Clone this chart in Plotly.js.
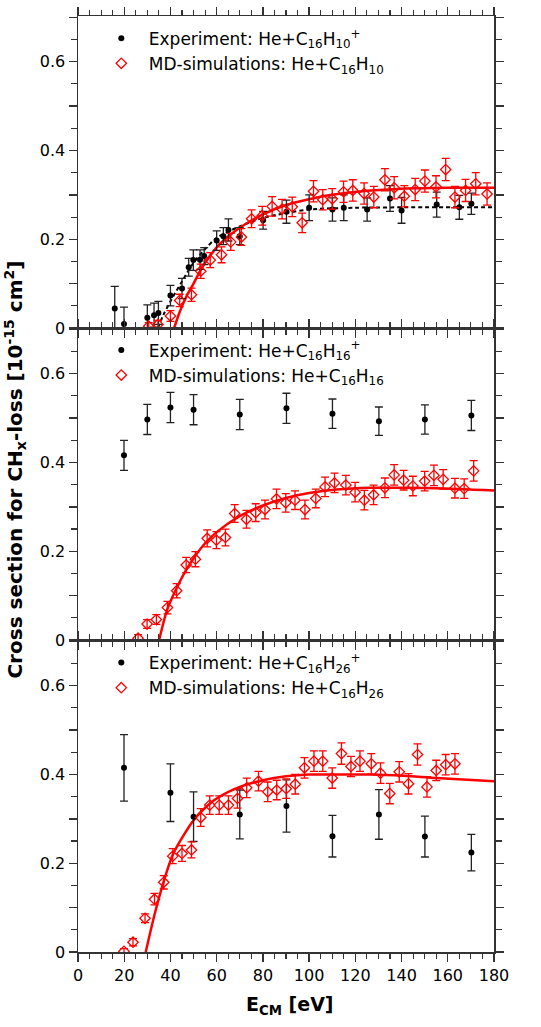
<!DOCTYPE html>
<html>
<head>
<meta charset="utf-8">
<script src="https://cdn.plot.ly/plotly-3.0.1.min.js"></script>
<style>body{margin:0;background:#fff;} #chart{width:541px;height:1027px;}</style>
</head>
<body>
<div id="chart"></div>
<script>
// panel 1: He + C16H10
var exp10E = [15.9, 19.9, 30.0, 32.9, 34.8, 40.0, 45.0, 47.9, 49.9, 52.8, 54.6, 60.0, 62.9, 65.1, 70.0, 80.1, 90.2, 100.0, 110.1, 115.0, 125.1, 135.0, 140.0, 155.2, 165.0, 170.2];
var exp10Y = [0.044, 0.009, 0.023, 0.029, 0.034, 0.073, 0.089, 0.137, 0.153, 0.154, 0.162, 0.197, 0.207, 0.221, 0.207, 0.243, 0.262, 0.271, 0.267, 0.271, 0.267, 0.292, 0.265, 0.278, 0.272, 0.280];
var exp10Err = [0.050, 0.038, 0.029, 0.027, 0.026, 0.023, 0.023, 0.020, 0.023, 0.022, 0.019, 0.022, 0.019, 0.025, 0.019, 0.020, 0.026, 0.029, 0.026, 0.029, 0.026, 0.029, 0.029, 0.028, 0.027, 0.024];
var md10E = [30.6, 34.6, 40.0, 44.0, 49.1, 53.1, 57.2, 62.1, 66.1, 70.7, 75.1, 79.7, 84.0, 88.3, 92.7, 97.0, 101.9, 105.9, 110.0, 114.9, 118.9, 123.8, 128.0, 132.8, 136.8, 141.2, 145.9, 150.1, 154.9, 159.1, 163.1, 167.7, 172.1, 177.0];
var md10Y = [0.004, 0.008, 0.027, 0.062, 0.075, 0.128, 0.153, 0.165, 0.194, 0.205, 0.246, 0.253, 0.274, 0.268, 0.273, 0.237, 0.308, 0.289, 0.291, 0.307, 0.310, 0.303, 0.295, 0.334, 0.316, 0.297, 0.312, 0.331, 0.318, 0.357, 0.295, 0.310, 0.325, 0.302];
var md10Err = [0.008, 0.009, 0.012, 0.014, 0.015, 0.016, 0.017, 0.018, 0.019, 0.019, 0.020, 0.021, 0.022, 0.022, 0.022, 0.022, 0.024, 0.023, 0.023, 0.024, 0.024, 0.024, 0.024, 0.025, 0.025, 0.024, 0.025, 0.025, 0.025, 0.025, 0.024, 0.025, 0.025, 0.025];
var fitMd10E = [41.6, 44, 47, 50, 53, 56, 60, 65, 70, 80, 90, 100, 110, 125, 140, 160, 180];
var fitMd10Y = [0, 0.036, 0.072, 0.100, 0.130, 0.154, 0.182, 0.206, 0.226, 0.256, 0.277, 0.290, 0.300, 0.309, 0.314, 0.316, 0.316];
var fitExp10E = [34.6, 37, 40, 45, 50, 55, 60, 70, 80, 90, 100, 120, 150, 180];
var fitExp10Y = [0, 0.030, 0.060, 0.105, 0.147, 0.178, 0.203, 0.229, 0.248, 0.259, 0.267, 0.271, 0.272, 0.272];

// panel 2: He + C16H16
var exp16E = [19.9, 30.0, 40.0, 50.0, 70.0, 90.2, 110.1, 130.2, 150.1, 170.2];
var exp16Y = [0.416, 0.497, 0.524, 0.519, 0.508, 0.522, 0.510, 0.493, 0.497, 0.506];
var exp16Err = [0.034, 0.034, 0.034, 0.034, 0.034, 0.034, 0.033, 0.032, 0.033, 0.034];
var md16E = [26.0, 29.9, 33.9, 38.7, 42.7, 46.8, 50.8, 55.9, 59.9, 63.8, 67.8, 72.9, 76.9, 80.9, 85.9, 89.9, 93.9, 98.2, 102.9, 106.9, 111.0, 115.9, 119.9, 123.9, 127.9, 132.8, 136.8, 140.9, 144.9, 150.0, 154.0, 158.0, 163.1, 167.1, 171.2];
var md16Y = [0.004, 0.036, 0.046, 0.073, 0.111, 0.169, 0.182, 0.229, 0.225, 0.231, 0.285, 0.272, 0.287, 0.294, 0.318, 0.309, 0.315, 0.294, 0.319, 0.345, 0.354, 0.349, 0.333, 0.315, 0.327, 0.343, 0.372, 0.360, 0.347, 0.358, 0.371, 0.362, 0.342, 0.341, 0.381];
var md16Err = [0.008, 0.010, 0.011, 0.014, 0.016, 0.017, 0.017, 0.019, 0.019, 0.019, 0.020, 0.020, 0.020, 0.021, 0.022, 0.021, 0.021, 0.021, 0.021, 0.022, 0.022, 0.022, 0.022, 0.022, 0.022, 0.022, 0.023, 0.022, 0.022, 0.022, 0.023, 0.022, 0.022, 0.022, 0.023];
var fitMd16E = [35.1, 38.7, 42.7, 46.8, 50.8, 55, 60, 70, 80, 90, 100, 112, 126, 141, 155, 180];
var fitMd16Y = [0, 0.070, 0.117, 0.158, 0.190, 0.218, 0.243, 0.279, 0.303, 0.320, 0.331, 0.339, 0.343, 0.343, 0.342, 0.337];

// panel 3: He + C16H26
var exp26E = [19.9, 40.0, 50.0, 70.0, 90.2, 110.1, 130.2, 150.1, 170.2];
var exp26Y = [0.415, 0.359, 0.305, 0.310, 0.329, 0.261, 0.310, 0.260, 0.224];
var exp26Err = [0.075, 0.065, 0.056, 0.055, 0.059, 0.047, 0.056, 0.046, 0.041];
var md26E = [19.9, 23.8, 29.0, 33.1, 37.1, 41.0, 45.0, 49.1, 53.1, 57.0, 61.1, 65.1, 69.0, 73.0, 78.1, 82.1, 86.0, 90.1, 94.0, 98.0, 102.1, 105.9, 110.0, 114.0, 118.1, 122.0, 126.9, 130.9, 134.9, 139.0, 143.0, 146.9, 151.0, 155.0, 159.1, 163.1];
var md26Y = [0.0015, 0.022, 0.076, 0.119, 0.157, 0.216, 0.222, 0.230, 0.303, 0.331, 0.331, 0.331, 0.346, 0.370, 0.385, 0.361, 0.365, 0.368, 0.378, 0.415, 0.430, 0.430, 0.392, 0.447, 0.418, 0.430, 0.424, 0.403, 0.357, 0.406, 0.379, 0.445, 0.372, 0.409, 0.422, 0.424];
var md26Err = [0.006, 0.008, 0.010, 0.013, 0.015, 0.017, 0.018, 0.018, 0.020, 0.021, 0.021, 0.021, 0.022, 0.022, 0.022, 0.022, 0.022, 0.022, 0.022, 0.023, 0.023, 0.023, 0.023, 0.024, 0.023, 0.023, 0.023, 0.023, 0.023, 0.023, 0.023, 0.024, 0.023, 0.023, 0.023, 0.023];
var fitMd26E = [29.3, 33.1, 37.1, 41, 45, 50, 55, 60, 70, 80, 90, 100, 110, 126, 141, 155, 180];
var fitMd26Y = [0, 0.084, 0.159, 0.219, 0.257, 0.297, 0.325, 0.346, 0.372, 0.387, 0.396, 0.400, 0.400, 0.400, 0.397, 0.392, 0.385];

var panelNames = ['10', '16', '26'];

var fontName = 'DejaVu Sans';
var red = '#ff0000';

function expTrace(xs, ys, errs, ax, legendName, label) {
    return {
        x: xs, y: ys, xaxis: 'x' + ax, yaxis: 'y' + ax,
        type: 'scatter', mode: 'markers', name: label, legend: legendName,
        marker: {color: '#000', size: 6, symbol: 'circle'},
        error_y: {type: 'data', array: errs, visible: true, color: '#222', thickness: 1.3, width: 4}
    };
}

function mdTrace(xs, ys, errs, ax, legendName, label) {
    return {
        x: xs, y: ys, xaxis: 'x' + ax, yaxis: 'y' + ax,
        type: 'scatter', mode: 'markers', name: label, legend: legendName,
        marker: {color: red, size: 8, symbol: 'diamond-open', line: {color: red, width: 1.3}},
        error_y: {type: 'data', array: errs, visible: true, color: red, thickness: 1.3, width: 4}
    };
}

function fitTrace(xs, ys, ax, color, dash) {
    return {
        x: xs, y: ys, xaxis: 'x' + ax, yaxis: 'y' + ax,
        type: 'scatter', mode: 'lines', showlegend: false, hoverinfo: 'skip',
        line: {color: color, width: dash ? 2 : 2.5, dash: dash || 'solid', shape: 'spline', smoothing: 0.8}
    };
}

function expLabel(n) { return 'Experiment: He+C<sub>16</sub>H<sub>' + n + '</sub><sup>+</sup>'; }
function mdLabel(n) { return 'MD-simulations: He+C<sub>16</sub>H<sub>' + n + '</sub>'; }

var data = [
    fitTrace(fitExp10E, fitExp10Y, '', '#000', '4px,3px'),
    fitTrace(fitMd10E, fitMd10Y, '', red),
    expTrace(exp10E, exp10Y, exp10Err, '', 'legend', expLabel(panelNames[0])),
    mdTrace(md10E, md10Y, md10Err, '', 'legend', mdLabel(panelNames[0])),
    fitTrace(fitMd16E, fitMd16Y, '2', red),
    expTrace(exp16E, exp16Y, exp16Err, '2', 'legend2', expLabel(panelNames[1])),
    mdTrace(md16E, md16Y, md16Err, '2', 'legend2', mdLabel(panelNames[1])),
    fitTrace(fitMd26E, fitMd26Y, '3', red),
    expTrace(exp26E, exp26Y, exp26Err, '3', 'legend3', expLabel(panelNames[2])),
    mdTrace(md26E, md26Y, md26Err, '3', 'legend3', mdLabel(panelNames[2]))
];

var tickFont = {family: fontName, size: 16, color: '#000'};

function xAxis(anchor, labels) {
    return {
        anchor: anchor, range: [0, 180], showgrid: false, zeroline: false,
        showline: true, linecolor: '#333', linewidth: 1.5, mirror: 'ticks',
        ticks: 'outside', ticklen: 8, tickwidth: 1.3, tickcolor: '#333',
        tickvals: [0, 20, 40, 60, 80, 100, 120, 140, 160, 180],
        showticklabels: labels, tickfont: tickFont,
        minor: {dtick: 5, ticklen: 5, tickwidth: 1.1, tickcolor: '#333', ticks: 'outside'}
    };
}

function yAxis(anchor, domain) {
    return {
        anchor: anchor, domain: domain, range: [0, 0.703], showgrid: false, zeroline: false,
        showline: true, linecolor: '#333', linewidth: 1.5, mirror: 'ticks',
        ticks: 'outside', ticklen: 8, tickwidth: 1.3, tickcolor: '#333',
        tickvals: [0, 0.1, 0.2, 0.3, 0.4, 0.5, 0.6, 0.7],
        ticktext: ['0', '', '0.2', '', '0.4', '', '0.6', ''],
        tickfont: tickFont,
        minor: {dtick: 0.05, ticklen: 6, tickwidth: 1.1, tickcolor: '#333', ticks: 'outside'}
    };
}

function legendBox(y) {
    return {
        x: 0.038, y: y, xanchor: 'left', yanchor: 'top', bgcolor: 'rgba(0,0,0,0)',
        font: {family: fontName, size: 17, color: '#000'}, itemwidth: 45, tracegroupgap: 0
    };
}

var layout = {
    width: 541,
    height: 1027,
    margin: {l: 78, r: 47, t: 16, b: 75},
    paper_bgcolor: '#fff',
    plot_bgcolor: '#fff',
    xaxis: xAxis('y', false),
    xaxis2: xAxis('y2', false),
    xaxis3: xAxis('y3', true),
    yaxis: yAxis('x', [2 / 3, 1]),
    yaxis2: yAxis('x2', [1 / 3, 2 / 3]),
    yaxis3: yAxis('x3', [0, 1 / 3]),
    legend: legendBox(0.995),
    legend2: legendBox(0.662),
    legend3: legendBox(0.328),
    annotations: [
        {
            text: 'Cross section for CH<sub>x</sub>-loss [10<sup>-15</sup> cm<sup>2</sup>]',
            xref: 'paper', yref: 'paper', x: -0.15, y: 0.515, textangle: -90,
            xanchor: 'center', yanchor: 'middle', showarrow: false,
            font: {family: fontName, size: 20, weight: 'bold', color: '#000'}
        },
        {
            text: 'E<sub>CM</sub> [eV]',
            xref: 'paper', yref: 'paper', x: 0.51, y: -0.057,
            xanchor: 'center', yanchor: 'middle', showarrow: false,
            font: {family: fontName, size: 19, weight: 'bold', color: '#000'}
        }
    ]
};

Plotly.newPlot('chart', data, layout, {staticPlot: true});
</script>
</body>
</html>
